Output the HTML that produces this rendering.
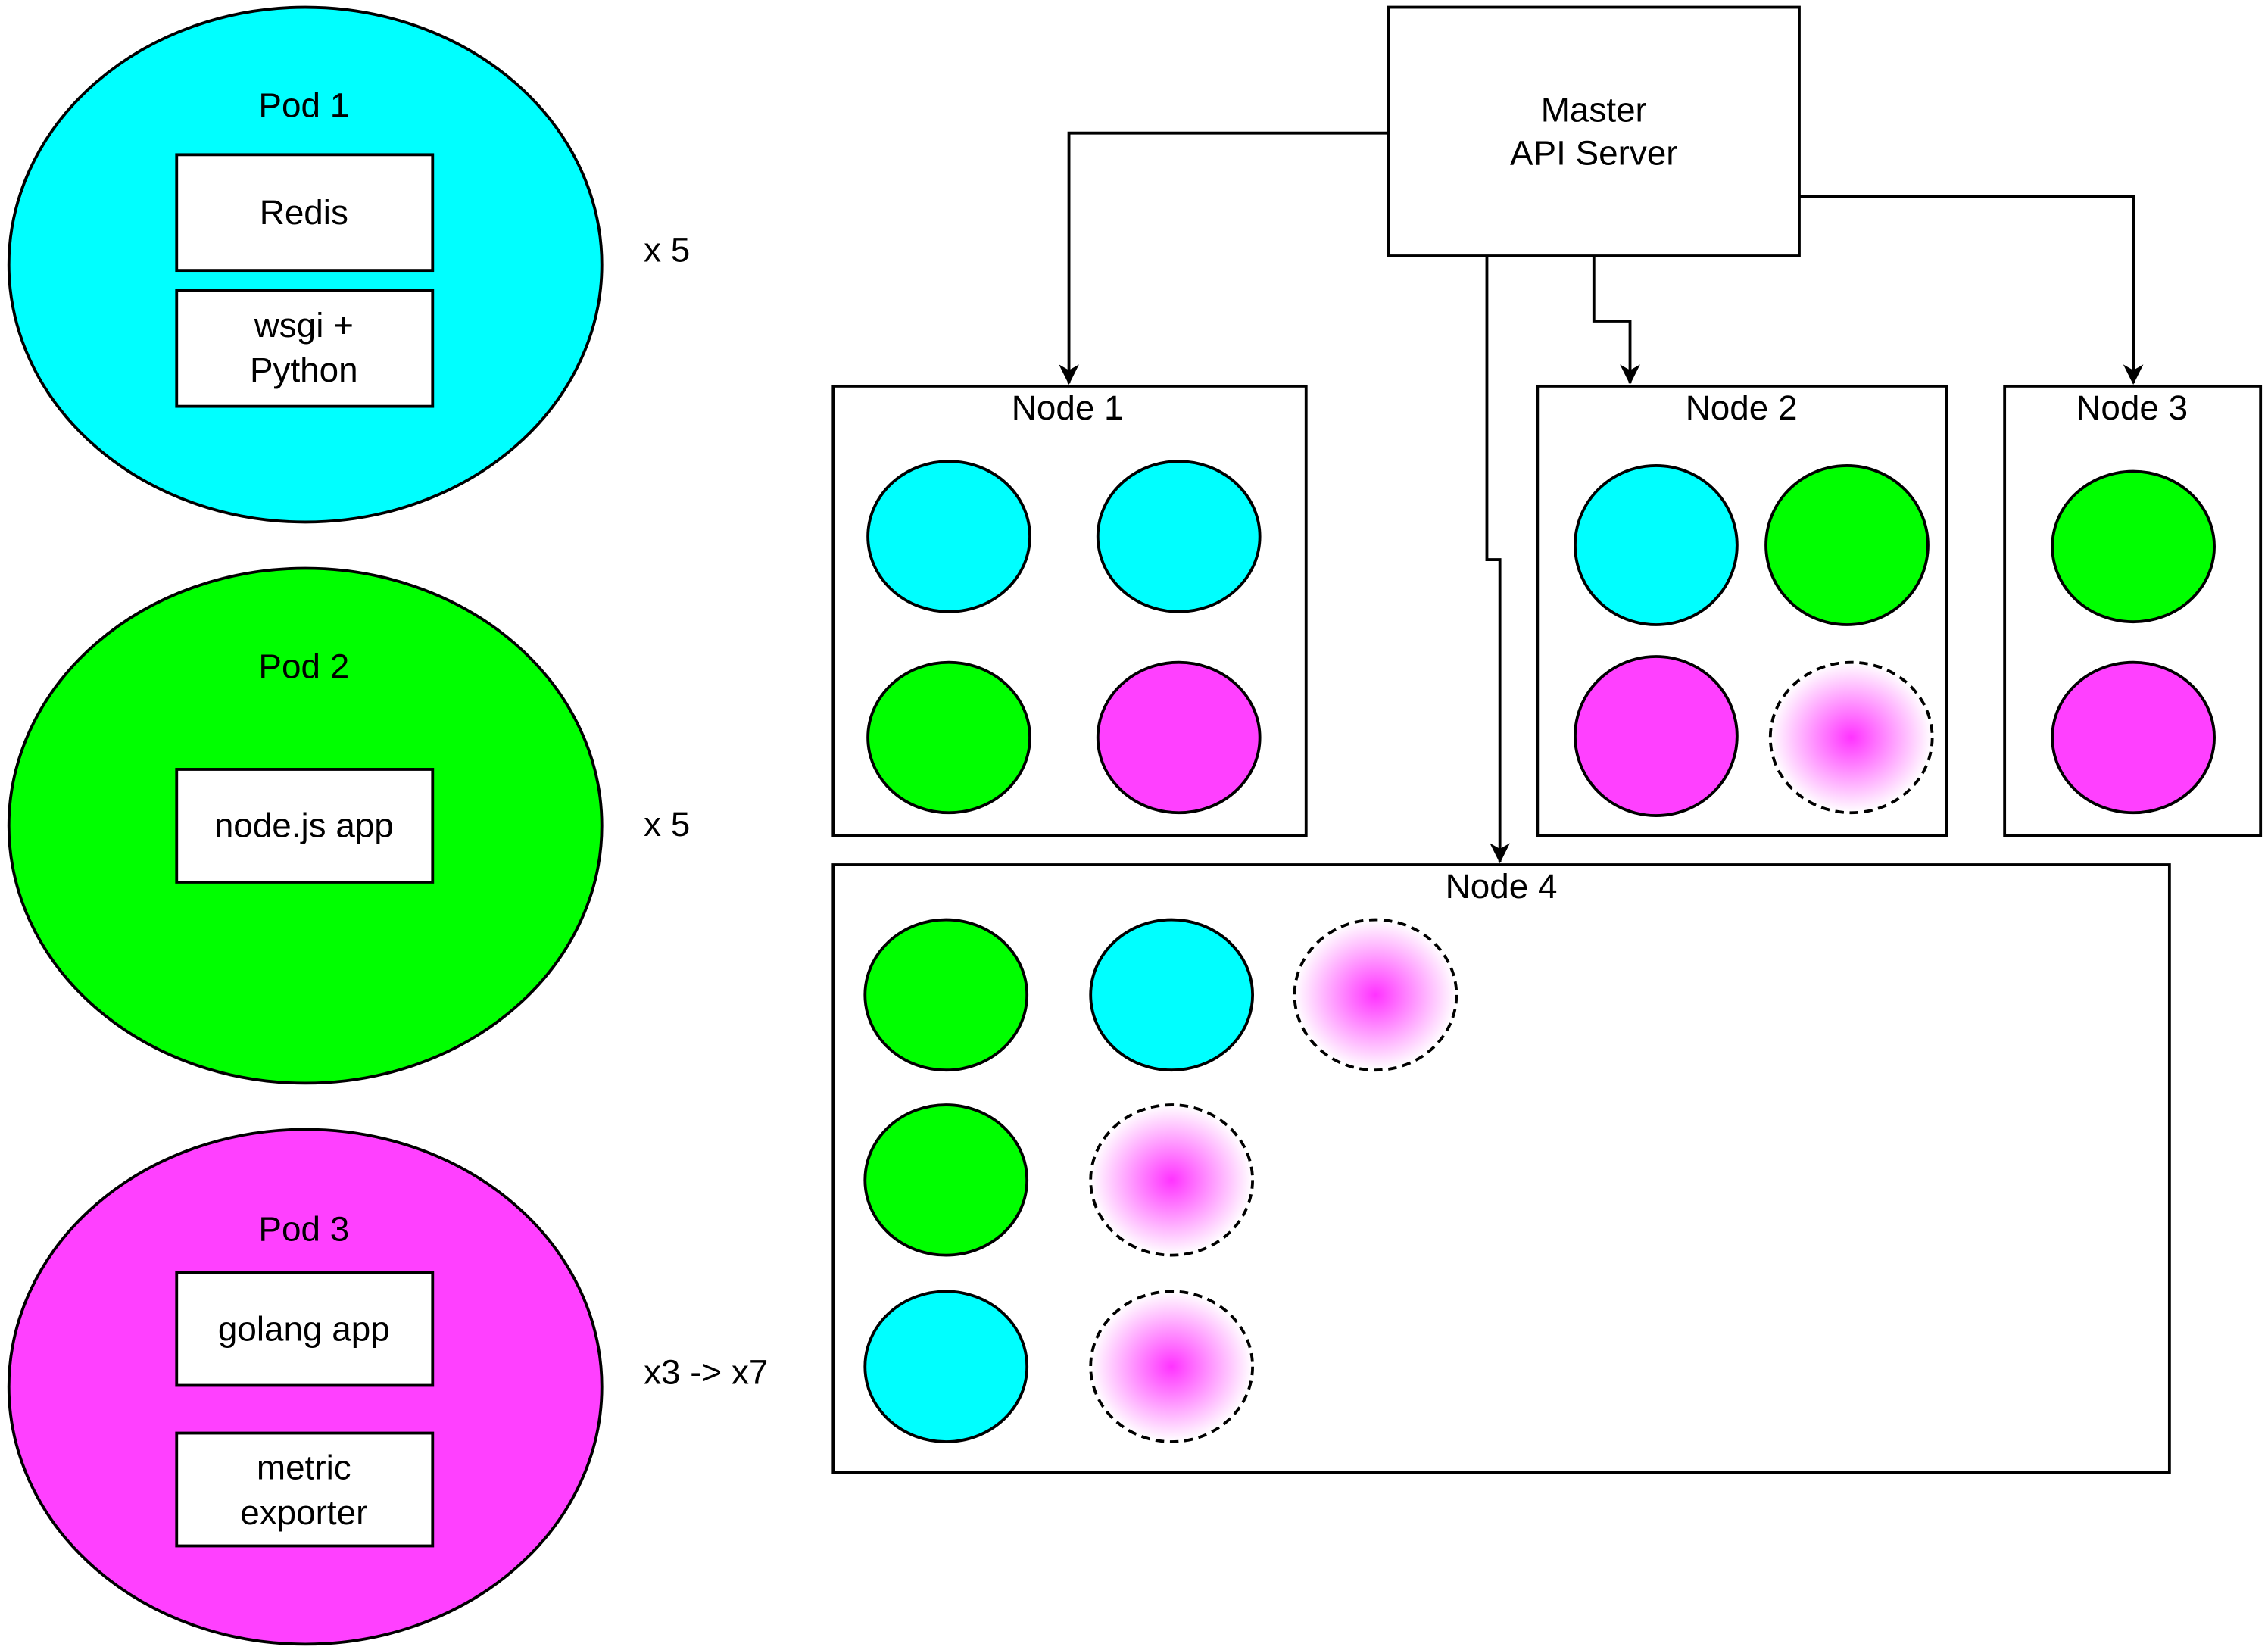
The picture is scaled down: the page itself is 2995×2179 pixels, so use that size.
<!DOCTYPE html>
<html><head><meta charset="utf-8"><style>
html,body{margin:0;padding:0;background:#fff;}
svg{display:block;}
text{font-family:"Liberation Sans",sans-serif;font-size:24px;fill:#000;}
</style></head><body>
<svg width="2995" height="2179" viewBox="0 0 1568 1141" xmlns="http://www.w3.org/2000/svg">
<defs>
<radialGradient id="g"><stop offset="0" stop-color="#ff33ff"/><stop offset="1" stop-color="#ffffff"/></radialGradient>
<marker id="a" markerWidth="16" markerHeight="16" refX="13" refY="7" orient="auto" markerUnits="userSpaceOnUse"><path d="M0,0 L14,7 L0,14 L4,7 z" fill="#000"/></marker>
</defs>
<g stroke="#000" stroke-width="2">
<ellipse cx="211" cy="183" rx="205" ry="178" fill="#00ffff"/>
<ellipse cx="211" cy="571" rx="205" ry="178" fill="#00ff00"/>
<ellipse cx="211" cy="959" rx="205" ry="178" fill="#ff40ff"/>
<rect x="122" y="107" width="177" height="80" fill="#fff"/>
<rect x="122" y="201" width="177" height="80" fill="#fff"/>
<rect x="122" y="532" width="177" height="78" fill="#fff"/>
<rect x="122" y="880" width="177" height="78" fill="#fff"/>
<rect x="122" y="991" width="177" height="78" fill="#fff"/>
<rect x="960" y="5" width="284" height="172" fill="#fff"/>
<rect x="576" y="267" width="327" height="311" fill="#fff"/>
<rect x="1063" y="267" width="283" height="311" fill="#fff"/>
<rect x="1386" y="267" width="177" height="311" fill="#fff"/>
<rect x="576" y="598" width="924" height="420" fill="#fff"/>
<g fill="none">
<path d="M960,92 H739 V265" marker-end="url(#a)"/>
<path d="M1102,177 V222 H1127 V265" marker-end="url(#a)"/>
<path d="M1244,136 H1475 V265" marker-end="url(#a)"/>
<path d="M1028,177 V387 H1037 V596" marker-end="url(#a)"/>
</g>
<ellipse cx="656" cy="371" rx="56" ry="52" fill="#00ffff"/>
<ellipse cx="815" cy="371" rx="56" ry="52" fill="#00ffff"/>
<ellipse cx="656" cy="510" rx="56" ry="52" fill="#00ff00"/>
<ellipse cx="815" cy="510" rx="56" ry="52" fill="#ff40ff"/>
<ellipse cx="1145" cy="377" rx="56" ry="55" fill="#00ffff"/>
<ellipse cx="1277" cy="377" rx="56" ry="55" fill="#00ff00"/>
<ellipse cx="1145" cy="509" rx="56" ry="55" fill="#ff40ff"/>
<ellipse cx="1280" cy="510" rx="56" ry="52" fill="url(#g)" stroke-dasharray="6,4"/>
<ellipse cx="1475" cy="378" rx="56" ry="52" fill="#00ff00"/>
<ellipse cx="1475" cy="510" rx="56" ry="52" fill="#ff40ff"/>
<ellipse cx="654" cy="688" rx="56" ry="52" fill="#00ff00"/>
<ellipse cx="810" cy="688" rx="56" ry="52" fill="#00ffff"/>
<ellipse cx="951" cy="688" rx="56" ry="52" fill="url(#g)" stroke-dasharray="6,4"/>
<ellipse cx="654" cy="816" rx="56" ry="52" fill="#00ff00"/>
<ellipse cx="810" cy="816" rx="56" ry="52" fill="url(#g)" stroke-dasharray="6,4"/>
<ellipse cx="654" cy="945" rx="56" ry="52" fill="#00ffff"/>
<ellipse cx="810" cy="945" rx="56" ry="52" fill="url(#g)" stroke-dasharray="6,4"/>
</g>
<g text-anchor="middle">
<text x="210" y="81">Pod 1</text>
<text x="210" y="469">Pod 2</text>
<text x="210" y="858">Pod 3</text>
<text x="210" y="155">Redis</text>
<text x="210" y="233">wsgi +</text>
<text x="210" y="264">Python</text>
<text x="210" y="579">node.js app</text>
<text x="210" y="927">golang app</text>
<text x="210" y="1023">metric</text>
<text x="210" y="1054">exporter</text>
<text x="1102" y="84">Master</text>
<text x="1102" y="114">API Server</text>
<text x="738" y="290">Node 1</text>
<text x="1204" y="290">Node 2</text>
<text x="1474" y="290">Node 3</text>
<text x="1038" y="621">Node 4</text>
</g>
<text x="445" y="181">x 5</text>
<text x="445" y="578">x 5</text>
<text x="445" y="957">x3 -&gt; x7</text>
</svg>
</body></html>
